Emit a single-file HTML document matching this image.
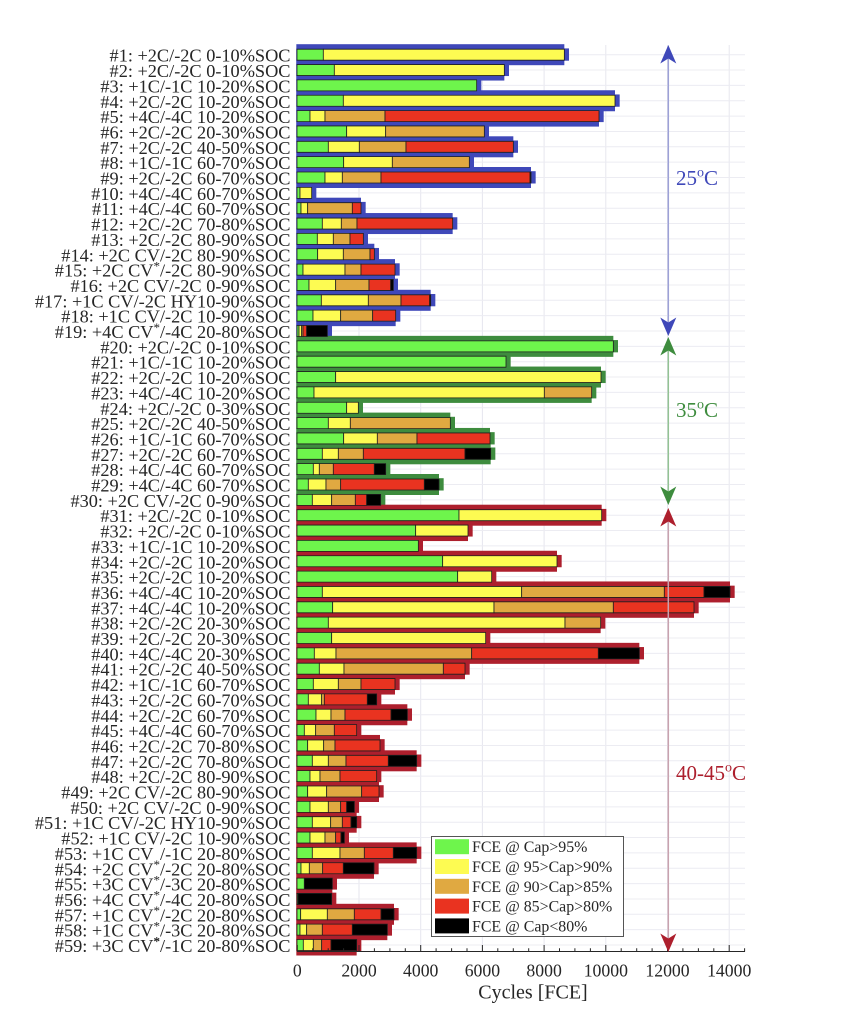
<!DOCTYPE html>
<html><head><meta charset="utf-8"><style>
body{margin:0;background:#fff}
svg{display:block}
text{font-family:"Liberation Serif","DejaVu Serif",serif;fill:#262626}
.o1{fill:#3f48b9}.o2{fill:#3e8c3e}.o3{fill:#ad1f2d}
.g,.y,.o,.r,.k{stroke:#1e1e1e;stroke-width:0.8px;vector-effect:non-scaling-stroke}
.g{fill:#6ef54c}.y{fill:#fdfb52}.o{fill:#e0a941}.r{fill:#e93320}.k{fill:#000}
</style></head><body>
<svg width="851" height="1024" viewBox="0 0 851 1024" xmlns="http://www.w3.org/2000/svg">
<rect width="851" height="1024" fill="#fff"/>
<!-- grid -->
<path d="M359 45V951M420.7 45V951M482.4 45V951M544.1 45V951M605.8 45V951M667.5 45V951M729.2 45V951" stroke="#e6e6ee" stroke-width="1" fill="none"/>
<path d="M297 54.7H745M297 70.05H745M297 85.4H745M297 100.75H745M297 116.1H745M297 131.45H745M297 146.8H745M297 162.15H745M297 177.5H745M297 192.85H745M297 208.2H745M297 223.55H745M297 238.9H745M297 254.25H745M297 269.6H745M297 284.95H745M297 300.3H745M297 315.65H745M297 331H745M297 346.35H745M297 361.7H745M297 377.05H745M297 392.4H745M297 407.75H745M297 423.1H745M297 438.45H745M297 453.8H745M297 469.15H745M297 484.5H745M297 499.85H745M297 515.2H745M297 530.55H745M297 545.9H745M297 561.25H745M297 576.6H745M297 591.95H745M297 607.3H745M297 622.65H745M297 638H745M297 653.35H745M297 668.7H745M297 684.05H745M297 699.4H745M297 714.75H745M297 730.1H745M297 745.45H745M297 760.8H745M297 776.15H745M297 791.5H745M297 806.85H745M297 822.2H745M297 837.55H745M297 852.9H745M297 868.25H745M297 883.6H745M297 898.95H745M297 914.3H745M297 929.65H745M297 945H745" stroke="#ececf2" stroke-width="1" fill="none"/>

<g transform="translate(295,0) scale(0.333333,1)">
<!-- outer bars -->
<g transform="translate(0,54.7)" class="o1"><rect x="4" y="-10.5" width="804" height="21"/><rect x="4" y="-6.3" width="818" height="12.3"/></g>
<g transform="translate(0,70.05)" class="o1"><rect x="4" y="-10.5" width="624" height="21"/><rect x="4" y="-6.3" width="638" height="12.3"/></g>
<g transform="translate(0,85.4)" class="o1"><rect x="4" y="-10.5" width="541" height="21"/><rect x="4" y="-6.3" width="555" height="12.3"/></g>
<g transform="translate(0,100.75)" class="o1"><rect x="4" y="-10.5" width="956" height="21"/><rect x="4" y="-6.3" width="970" height="12.3"/></g>
<g transform="translate(0,116.1)" class="o1"><rect x="4" y="-10.5" width="908" height="21"/><rect x="4" y="-6.3" width="922" height="12.3"/></g>
<g transform="translate(0,131.45)" class="o1"><rect x="4" y="-10.5" width="564" height="21"/><rect x="4" y="-6.3" width="578" height="12.3"/></g>
<g transform="translate(0,146.8)" class="o1"><rect x="4" y="-10.5" width="651" height="21"/><rect x="4" y="-6.3" width="665" height="12.3"/></g>
<g transform="translate(0,162.15)" class="o1"><rect x="4" y="-10.5" width="519" height="21"/><rect x="4" y="-6.3" width="533" height="12.3"/></g>
<g transform="translate(0,177.5)" class="o1"><rect x="4" y="-10.5" width="704" height="21"/><rect x="4" y="-6.3" width="718" height="12.3"/></g>
<g transform="translate(0,192.85)" class="o1"><rect x="4" y="-10.5" width="46" height="21"/><rect x="4" y="-6.3" width="60" height="12.3"/></g>
<g transform="translate(0,208.2)" class="o1"><rect x="4" y="-10.5" width="194" height="21"/><rect x="4" y="-6.3" width="208" height="12.3"/></g>
<g transform="translate(0,223.55)" class="o1"><rect x="4" y="-10.5" width="469" height="21"/><rect x="4" y="-6.3" width="483" height="12.3"/></g>
<g transform="translate(0,238.9)" class="o1"><rect x="4" y="-10.5" width="201" height="21"/><rect x="4" y="-6.3" width="215" height="12.3"/></g>
<g transform="translate(0,254.25)" class="o1"><rect x="4" y="-10.5" width="234" height="21"/><rect x="4" y="-6.3" width="248" height="12.3"/></g>
<g transform="translate(0,269.6)" class="o1"><rect x="4" y="-10.5" width="296" height="21"/><rect x="4" y="-6.3" width="310" height="12.3"/></g>
<g transform="translate(0,284.95)" class="o1"><rect x="4" y="-10.5" width="291" height="21"/><rect x="4" y="-6.3" width="305" height="12.3"/></g>
<g transform="translate(0,300.3)" class="o1"><rect x="4" y="-10.5" width="403" height="21"/><rect x="4" y="-6.3" width="417" height="12.3"/></g>
<g transform="translate(0,315.65)" class="o1"><rect x="4" y="-10.5" width="298" height="21"/><rect x="4" y="-6.3" width="312" height="12.3"/></g>
<g transform="translate(0,331)" class="o1"><rect x="4" y="-10.5" width="93" height="21"/><rect x="4" y="-6.3" width="107" height="12.3"/></g>
<g transform="translate(0,346.35)" class="o2"><rect x="4" y="-10.5" width="951" height="21"/><rect x="4" y="-6.3" width="965" height="12.3"/></g>
<g transform="translate(0,361.7)" class="o2"><rect x="4" y="-10.5" width="629" height="21"/><rect x="4" y="-6.3" width="643" height="12.3"/></g>
<g transform="translate(0,377.05)" class="o2"><rect x="4" y="-10.5" width="914" height="21"/><rect x="4" y="-6.3" width="928" height="12.3"/></g>
<g transform="translate(0,392.4)" class="o2"><rect x="4" y="-10.5" width="886" height="21"/><rect x="4" y="-6.3" width="900" height="12.3"/></g>
<g transform="translate(0,407.75)" class="o2"><rect x="4" y="-10.5" width="186" height="21"/><rect x="4" y="-6.3" width="200" height="12.3"/></g>
<g transform="translate(0,423.1)" class="o2"><rect x="4" y="-10.5" width="462" height="21"/><rect x="4" y="-6.3" width="476" height="12.3"/></g>
<g transform="translate(0,438.45)" class="o2"><rect x="4" y="-10.5" width="581" height="21"/><rect x="4" y="-6.3" width="595" height="12.3"/></g>
<g transform="translate(0,453.8)" class="o2"><rect x="4" y="-10.5" width="583" height="21"/><rect x="4" y="-6.3" width="597" height="12.3"/></g>
<g transform="translate(0,469.15)" class="o2"><rect x="4" y="-10.5" width="268" height="21"/><rect x="4" y="-6.3" width="282" height="12.3"/></g>
<g transform="translate(0,484.5)" class="o2"><rect x="4" y="-10.5" width="428" height="21"/><rect x="4" y="-6.3" width="442" height="12.3"/></g>
<g transform="translate(0,499.85)" class="o2"><rect x="4" y="-10.5" width="253" height="21"/><rect x="4" y="-6.3" width="267" height="12.3"/></g>
<g transform="translate(0,515.2)" class="o3"><rect x="4" y="-10.5" width="916" height="21"/><rect x="4" y="-6.3" width="930" height="12.3"/></g>
<g transform="translate(0,530.55)" class="o3"><rect x="4" y="-10.5" width="515" height="21"/><rect x="4" y="-6.3" width="529" height="12.3"/></g>
<g transform="translate(0,545.9)" class="o3"><rect x="4" y="-10.5" width="366" height="21"/><rect x="4" y="-6.3" width="380" height="12.3"/></g>
<g transform="translate(0,561.25)" class="o3"><rect x="4" y="-10.5" width="782" height="21"/><rect x="4" y="-6.3" width="796" height="12.3"/></g>
<g transform="translate(0,576.6)" class="o3"><rect x="4" y="-10.5" width="586" height="21"/><rect x="4" y="-6.3" width="600" height="12.3"/></g>
<g transform="translate(0,591.95)" class="o3"><rect x="4" y="-10.5" width="1301" height="21"/><rect x="4" y="-6.3" width="1315" height="12.3"/></g>
<g transform="translate(0,607.3)" class="o3"><rect x="4" y="-10.5" width="1193" height="21"/><rect x="4" y="-6.3" width="1207" height="12.3"/></g>
<g transform="translate(0,622.65)" class="o3"><rect x="4" y="-10.5" width="913" height="21"/><rect x="4" y="-6.3" width="927" height="12.3"/></g>
<g transform="translate(0,638)" class="o3"><rect x="4" y="-10.5" width="568" height="21"/><rect x="4" y="-6.3" width="582" height="12.3"/></g>
<g transform="translate(0,653.35)" class="o3"><rect x="4" y="-10.5" width="1029" height="21"/><rect x="4" y="-6.3" width="1043" height="12.3"/></g>
<g transform="translate(0,668.7)" class="o3"><rect x="4" y="-10.5" width="506" height="21"/><rect x="4" y="-6.3" width="520" height="12.3"/></g>
<g transform="translate(0,684.05)" class="o3"><rect x="4" y="-10.5" width="296" height="21"/><rect x="4" y="-6.3" width="310" height="12.3"/></g>
<g transform="translate(0,699.4)" class="o3"><rect x="4" y="-10.5" width="241" height="21"/><rect x="4" y="-6.3" width="255" height="12.3"/></g>
<g transform="translate(0,714.75)" class="o3"><rect x="4" y="-10.5" width="333" height="21"/><rect x="4" y="-6.3" width="347" height="12.3"/></g>
<g transform="translate(0,730.1)" class="o3"><rect x="4" y="-10.5" width="181" height="21"/><rect x="4" y="-6.3" width="195" height="12.3"/></g>
<g transform="translate(0,745.45)" class="o3"><rect x="4" y="-10.5" width="251" height="21"/><rect x="4" y="-6.3" width="265" height="12.3"/></g>
<g transform="translate(0,760.8)" class="o3"><rect x="4" y="-10.5" width="361" height="21"/><rect x="4" y="-6.3" width="375" height="12.3"/></g>
<g transform="translate(0,776.15)" class="o3"><rect x="4" y="-10.5" width="241" height="21"/><rect x="4" y="-6.3" width="255" height="12.3"/></g>
<g transform="translate(0,791.5)" class="o3"><rect x="4" y="-10.5" width="248" height="21"/><rect x="4" y="-6.3" width="262" height="12.3"/></g>
<g transform="translate(0,806.85)" class="o3"><rect x="4" y="-10.5" width="174" height="21"/><rect x="4" y="-6.3" width="188" height="12.3"/></g>
<g transform="translate(0,822.2)" class="o3"><rect x="4" y="-10.5" width="181" height="21"/><rect x="4" y="-6.3" width="195" height="12.3"/></g>
<g transform="translate(0,837.55)" class="o3"><rect x="4" y="-10.5" width="144" height="21"/><rect x="4" y="-6.3" width="158" height="12.3"/></g>
<g transform="translate(0,852.9)" class="o3"><rect x="4" y="-10.5" width="361" height="21"/><rect x="4" y="-6.3" width="375" height="12.3"/></g>
<g transform="translate(0,868.25)" class="o3"><rect x="4" y="-10.5" width="233" height="21"/><rect x="4" y="-6.3" width="247" height="12.3"/></g>
<g transform="translate(0,883.6)" class="o3"><rect x="4" y="-10.5" width="108" height="21"/><rect x="4" y="-6.3" width="122" height="12.3"/></g>
<g transform="translate(0,898.95)" class="o3"><rect x="4" y="-10.5" width="106" height="21"/><rect x="4" y="-6.3" width="120" height="12.3"/></g>
<g transform="translate(0,914.3)" class="o3"><rect x="4" y="-10.5" width="293" height="21"/><rect x="4" y="-6.3" width="307" height="12.3"/></g>
<g transform="translate(0,929.65)" class="o3"><rect x="4" y="-10.5" width="273" height="21"/><rect x="4" y="-6.3" width="287" height="12.3"/></g>
<g transform="translate(0,945)" class="o3"><rect x="4" y="-10.5" width="181" height="21"/><rect x="4" y="-6.3" width="195" height="12.3"/></g>

<!-- inner bars -->
<g transform="translate(0,54.7)"><rect class="g" x="6" y="-5.5" width="79" height="11"/><rect class="y" x="85" y="-5.5" width="723" height="11"/></g>
<g transform="translate(0,70.05)"><rect class="g" x="6" y="-5.5" width="112" height="11"/><rect class="y" x="118" y="-5.5" width="510" height="11"/></g>
<g transform="translate(0,85.4)"><rect class="g" x="6" y="-5.5" width="539" height="11"/></g>
<g transform="translate(0,100.75)"><rect class="g" x="6" y="-5.5" width="139" height="11"/><rect class="y" x="145" y="-5.5" width="815" height="11"/></g>
<g transform="translate(0,116.1)"><rect class="g" x="6" y="-5.5" width="39" height="11"/><rect class="y" x="45" y="-5.5" width="45" height="11"/><rect class="o" x="90" y="-5.5" width="180" height="11"/><rect class="r" x="270" y="-5.5" width="642" height="11"/></g>
<g transform="translate(0,131.45)"><rect class="g" x="6" y="-5.5" width="149" height="11"/><rect class="y" x="155" y="-5.5" width="117" height="11"/><rect class="o" x="272" y="-5.5" width="296" height="11"/></g>
<g transform="translate(0,146.8)"><rect class="g" x="6" y="-5.5" width="94" height="11"/><rect class="y" x="100" y="-5.5" width="93" height="11"/><rect class="o" x="193" y="-5.5" width="140" height="11"/><rect class="r" x="333" y="-5.5" width="322" height="11"/></g>
<g transform="translate(0,162.15)"><rect class="g" x="6" y="-5.5" width="140" height="11"/><rect class="y" x="146" y="-5.5" width="146" height="11"/><rect class="o" x="292" y="-5.5" width="231" height="11"/></g>
<g transform="translate(0,177.5)"><rect class="g" x="6" y="-5.5" width="84" height="11"/><rect class="y" x="90" y="-5.5" width="52" height="11"/><rect class="o" x="142" y="-5.5" width="116" height="11"/><rect class="r" x="258" y="-5.5" width="447" height="11"/><rect class="k" x="705" y="-5.5" width="3" height="11"/></g>
<g transform="translate(0,192.85)"><rect class="g" x="6" y="-5.5" width="9" height="11"/><rect class="y" x="15" y="-5.5" width="35" height="11"/></g>
<g transform="translate(0,208.2)"><rect class="g" x="6" y="-5.5" width="12" height="11"/><rect class="y" x="18" y="-5.5" width="20" height="11"/><rect class="o" x="38" y="-5.5" width="134" height="11"/><rect class="r" x="172" y="-5.5" width="26" height="11"/></g>
<g transform="translate(0,223.55)"><rect class="g" x="6" y="-5.5" width="76" height="11"/><rect class="y" x="82" y="-5.5" width="57" height="11"/><rect class="o" x="139" y="-5.5" width="47" height="11"/><rect class="r" x="186" y="-5.5" width="287" height="11"/></g>
<g transform="translate(0,238.9)"><rect class="g" x="6" y="-5.5" width="61" height="11"/><rect class="y" x="67" y="-5.5" width="48" height="11"/><rect class="o" x="115" y="-5.5" width="50" height="11"/><rect class="r" x="165" y="-5.5" width="40" height="11"/></g>
<g transform="translate(0,254.25)"><rect class="g" x="6" y="-5.5" width="62" height="11"/><rect class="y" x="68" y="-5.5" width="77" height="11"/><rect class="o" x="145" y="-5.5" width="80" height="11"/><rect class="r" x="225" y="-5.5" width="13" height="11"/></g>
<g transform="translate(0,269.6)"><rect class="g" x="6" y="-5.5" width="18" height="11"/><rect class="y" x="24" y="-5.5" width="126" height="11"/><rect class="o" x="150" y="-5.5" width="48" height="11"/><rect class="r" x="198" y="-5.5" width="102" height="11"/></g>
<g transform="translate(0,284.95)"><rect class="g" x="6" y="-5.5" width="36" height="11"/><rect class="y" x="42" y="-5.5" width="80" height="11"/><rect class="o" x="122" y="-5.5" width="100" height="11"/><rect class="r" x="222" y="-5.5" width="65" height="11"/><rect class="k" x="287" y="-5.5" width="8" height="11"/></g>
<g transform="translate(0,300.3)"><rect class="g" x="6" y="-5.5" width="73" height="11"/><rect class="y" x="79" y="-5.5" width="141" height="11"/><rect class="o" x="220" y="-5.5" width="98" height="11"/><rect class="r" x="318" y="-5.5" width="86" height="11"/><rect class="k" x="404" y="-5.5" width="3" height="11"/></g>
<g transform="translate(0,315.65)"><rect class="g" x="6" y="-5.5" width="48" height="11"/><rect class="y" x="54" y="-5.5" width="83" height="11"/><rect class="o" x="137" y="-5.5" width="96" height="11"/><rect class="r" x="233" y="-5.5" width="69" height="11"/></g>
<g transform="translate(0,331)"><rect class="g" x="6" y="-5.5" width="6" height="11"/><rect class="y" x="12" y="-5.5" width="8" height="11"/><rect class="o" x="20" y="-5.5" width="4" height="11"/><rect class="r" x="24" y="-5.5" width="11" height="11"/><rect class="k" x="35" y="-5.5" width="62" height="11"/></g>
<g transform="translate(0,346.35)"><rect class="g" x="6" y="-5.5" width="949" height="11"/></g>
<g transform="translate(0,361.7)"><rect class="g" x="6" y="-5.5" width="627" height="11"/></g>
<g transform="translate(0,377.05)"><rect class="g" x="6" y="-5.5" width="116" height="11"/><rect class="y" x="122" y="-5.5" width="796" height="11"/></g>
<g transform="translate(0,392.4)"><rect class="g" x="6" y="-5.5" width="51" height="11"/><rect class="y" x="57" y="-5.5" width="691" height="11"/><rect class="o" x="748" y="-5.5" width="142" height="11"/></g>
<g transform="translate(0,407.75)"><rect class="g" x="6" y="-5.5" width="149" height="11"/><rect class="y" x="155" y="-5.5" width="35" height="11"/></g>
<g transform="translate(0,423.1)"><rect class="g" x="6" y="-5.5" width="94" height="11"/><rect class="y" x="100" y="-5.5" width="66" height="11"/><rect class="o" x="166" y="-5.5" width="300" height="11"/></g>
<g transform="translate(0,438.45)"><rect class="g" x="6" y="-5.5" width="140" height="11"/><rect class="y" x="146" y="-5.5" width="101" height="11"/><rect class="o" x="247" y="-5.5" width="119" height="11"/><rect class="r" x="366" y="-5.5" width="219" height="11"/></g>
<g transform="translate(0,453.8)"><rect class="g" x="6" y="-5.5" width="76" height="11"/><rect class="y" x="82" y="-5.5" width="48" height="11"/><rect class="o" x="130" y="-5.5" width="75" height="11"/><rect class="r" x="205" y="-5.5" width="305" height="11"/><rect class="k" x="510" y="-5.5" width="77" height="11"/></g>
<g transform="translate(0,469.15)"><rect class="g" x="6" y="-5.5" width="49" height="11"/><rect class="y" x="55" y="-5.5" width="18" height="11"/><rect class="o" x="73" y="-5.5" width="42" height="11"/><rect class="r" x="115" y="-5.5" width="123" height="11"/><rect class="k" x="238" y="-5.5" width="34" height="11"/></g>
<g transform="translate(0,484.5)"><rect class="g" x="6" y="-5.5" width="34" height="11"/><rect class="y" x="40" y="-5.5" width="53" height="11"/><rect class="o" x="93" y="-5.5" width="44" height="11"/><rect class="r" x="137" y="-5.5" width="251" height="11"/><rect class="k" x="388" y="-5.5" width="44" height="11"/></g>
<g transform="translate(0,499.85)"><rect class="g" x="6" y="-5.5" width="46" height="11"/><rect class="y" x="52" y="-5.5" width="58" height="11"/><rect class="o" x="110" y="-5.5" width="71" height="11"/><rect class="r" x="181" y="-5.5" width="34" height="11"/><rect class="k" x="215" y="-5.5" width="42" height="11"/></g>
<g transform="translate(0,515.2)"><rect class="g" x="6" y="-5.5" width="486" height="11"/><rect class="y" x="492" y="-5.5" width="428" height="11"/></g>
<g transform="translate(0,530.55)"><rect class="g" x="6" y="-5.5" width="356" height="11"/><rect class="y" x="362" y="-5.5" width="157" height="11"/></g>
<g transform="translate(0,545.9)"><rect class="g" x="6" y="-5.5" width="364" height="11"/></g>
<g transform="translate(0,561.25)"><rect class="g" x="6" y="-5.5" width="437" height="11"/><rect class="y" x="443" y="-5.5" width="343" height="11"/></g>
<g transform="translate(0,576.6)"><rect class="g" x="6" y="-5.5" width="482" height="11"/><rect class="y" x="488" y="-5.5" width="102" height="11"/></g>
<g transform="translate(0,591.95)"><rect class="g" x="6" y="-5.5" width="76" height="11"/><rect class="y" x="82" y="-5.5" width="598" height="11"/><rect class="o" x="680" y="-5.5" width="428" height="11"/><rect class="r" x="1108" y="-5.5" width="119" height="11"/><rect class="k" x="1227" y="-5.5" width="78" height="11"/></g>
<g transform="translate(0,607.3)"><rect class="g" x="6" y="-5.5" width="107" height="11"/><rect class="y" x="113" y="-5.5" width="484" height="11"/><rect class="o" x="597" y="-5.5" width="358" height="11"/><rect class="r" x="955" y="-5.5" width="242" height="11"/></g>
<g transform="translate(0,622.65)"><rect class="g" x="6" y="-5.5" width="94" height="11"/><rect class="y" x="100" y="-5.5" width="710" height="11"/><rect class="o" x="810" y="-5.5" width="107" height="11"/></g>
<g transform="translate(0,638)"><rect class="g" x="6" y="-5.5" width="104" height="11"/><rect class="y" x="110" y="-5.5" width="462" height="11"/></g>
<g transform="translate(0,653.35)"><rect class="g" x="6" y="-5.5" width="52" height="11"/><rect class="y" x="58" y="-5.5" width="65" height="11"/><rect class="o" x="123" y="-5.5" width="407" height="11"/><rect class="r" x="530" y="-5.5" width="380" height="11"/><rect class="k" x="910" y="-5.5" width="123" height="11"/></g>
<g transform="translate(0,668.7)"><rect class="g" x="6" y="-5.5" width="67" height="11"/><rect class="y" x="73" y="-5.5" width="74" height="11"/><rect class="o" x="147" y="-5.5" width="298" height="11"/><rect class="r" x="445" y="-5.5" width="65" height="11"/></g>
<g transform="translate(0,684.05)"><rect class="g" x="6" y="-5.5" width="49" height="11"/><rect class="y" x="55" y="-5.5" width="75" height="11"/><rect class="o" x="130" y="-5.5" width="68" height="11"/><rect class="r" x="198" y="-5.5" width="102" height="11"/></g>
<g transform="translate(0,699.4)"><rect class="g" x="6" y="-5.5" width="34" height="11"/><rect class="y" x="40" y="-5.5" width="40" height="11"/><rect class="o" x="80" y="-5.5" width="8" height="11"/><rect class="r" x="88" y="-5.5" width="129" height="11"/><rect class="k" x="217" y="-5.5" width="28" height="11"/></g>
<g transform="translate(0,714.75)"><rect class="g" x="6" y="-5.5" width="57" height="11"/><rect class="y" x="63" y="-5.5" width="45" height="11"/><rect class="o" x="108" y="-5.5" width="42" height="11"/><rect class="r" x="150" y="-5.5" width="138" height="11"/><rect class="k" x="288" y="-5.5" width="49" height="11"/></g>
<g transform="translate(0,730.1)"><rect class="g" x="6" y="-5.5" width="22" height="11"/><rect class="y" x="28" y="-5.5" width="34" height="11"/><rect class="o" x="62" y="-5.5" width="56" height="11"/><rect class="r" x="118" y="-5.5" width="67" height="11"/></g>
<g transform="translate(0,745.45)"><rect class="g" x="6" y="-5.5" width="32" height="11"/><rect class="y" x="38" y="-5.5" width="48" height="11"/><rect class="o" x="86" y="-5.5" width="34" height="11"/><rect class="r" x="120" y="-5.5" width="135" height="11"/></g>
<g transform="translate(0,760.8)"><rect class="g" x="6" y="-5.5" width="46" height="11"/><rect class="y" x="52" y="-5.5" width="48" height="11"/><rect class="o" x="100" y="-5.5" width="53" height="11"/><rect class="r" x="153" y="-5.5" width="127" height="11"/><rect class="k" x="280" y="-5.5" width="85" height="11"/></g>
<g transform="translate(0,776.15)"><rect class="g" x="6" y="-5.5" width="39" height="11"/><rect class="y" x="45" y="-5.5" width="30" height="11"/><rect class="o" x="75" y="-5.5" width="60" height="11"/><rect class="r" x="135" y="-5.5" width="110" height="11"/></g>
<g transform="translate(0,791.5)"><rect class="g" x="6" y="-5.5" width="32" height="11"/><rect class="y" x="38" y="-5.5" width="57" height="11"/><rect class="o" x="95" y="-5.5" width="105" height="11"/><rect class="r" x="200" y="-5.5" width="52" height="11"/></g>
<g transform="translate(0,806.85)"><rect class="g" x="6" y="-5.5" width="39" height="11"/><rect class="y" x="45" y="-5.5" width="55" height="11"/><rect class="o" x="100" y="-5.5" width="37" height="11"/><rect class="r" x="137" y="-5.5" width="18" height="11"/><rect class="k" x="155" y="-5.5" width="23" height="11"/></g>
<g transform="translate(0,822.2)"><rect class="g" x="6" y="-5.5" width="46" height="11"/><rect class="y" x="52" y="-5.5" width="55" height="11"/><rect class="o" x="107" y="-5.5" width="35" height="11"/><rect class="r" x="142" y="-5.5" width="26" height="11"/><rect class="k" x="168" y="-5.5" width="17" height="11"/></g>
<g transform="translate(0,837.55)"><rect class="g" x="6" y="-5.5" width="39" height="11"/><rect class="y" x="45" y="-5.5" width="45" height="11"/><rect class="o" x="90" y="-5.5" width="32" height="11"/><rect class="r" x="122" y="-5.5" width="16" height="11"/><rect class="k" x="138" y="-5.5" width="10" height="11"/></g>
<g transform="translate(0,852.9)"><rect class="g" x="6" y="-5.5" width="46" height="11"/><rect class="y" x="52" y="-5.5" width="83" height="11"/><rect class="o" x="135" y="-5.5" width="73" height="11"/><rect class="r" x="208" y="-5.5" width="87" height="11"/><rect class="k" x="295" y="-5.5" width="70" height="11"/></g>
<g transform="translate(0,868.25)"><rect class="g" x="6" y="-5.5" width="12" height="11"/><rect class="y" x="18" y="-5.5" width="25" height="11"/><rect class="o" x="43" y="-5.5" width="40" height="11"/><rect class="r" x="83" y="-5.5" width="62" height="11"/><rect class="k" x="145" y="-5.5" width="92" height="11"/></g>
<g transform="translate(0,883.6)"><rect class="g" x="6" y="-5.5" width="22" height="11"/><rect class="k" x="28" y="-5.5" width="84" height="11"/></g>
<g transform="translate(0,898.95)"><rect class="g" x="6" y="-5.5" width="3" height="11"/><rect class="k" x="9" y="-5.5" width="101" height="11"/></g>
<g transform="translate(0,914.3)"><rect class="g" x="6" y="-5.5" width="11" height="11"/><rect class="y" x="17" y="-5.5" width="80" height="11"/><rect class="o" x="97" y="-5.5" width="81" height="11"/><rect class="r" x="178" y="-5.5" width="80" height="11"/><rect class="k" x="258" y="-5.5" width="39" height="11"/></g>
<g transform="translate(0,929.65)"><rect class="g" x="6" y="-5.5" width="9" height="11"/><rect class="y" x="15" y="-5.5" width="20" height="11"/><rect class="o" x="35" y="-5.5" width="47" height="11"/><rect class="r" x="82" y="-5.5" width="90" height="11"/><rect class="k" x="172" y="-5.5" width="105" height="11"/></g>
<g transform="translate(0,945)"><rect class="g" x="6" y="-5.5" width="19" height="11"/><rect class="y" x="25" y="-5.5" width="30" height="11"/><rect class="o" x="55" y="-5.5" width="25" height="11"/><rect class="r" x="80" y="-5.5" width="28" height="11"/><rect class="k" x="108" y="-5.5" width="77" height="11"/></g>
</g>

<!-- x axis -->
<path d="M297 951.5H745" stroke="#262626" stroke-width="1"/>
<path d="M297.3 951.5V945M312.7 951.5V948.2M328.2 951.5V948.2M343.6 951.5V948.2M359 951.5V945M374.4 951.5V948.2M389.9 951.5V948.2M405.3 951.5V948.2M420.7 951.5V945M436.1 951.5V948.2M451.6 951.5V948.2M467 951.5V948.2M482.4 951.5V945M497.8 951.5V948.2M513.3 951.5V948.2M528.7 951.5V948.2M544.1 951.5V945M559.5 951.5V948.2M574.9 951.5V948.2M590.4 951.5V948.2M605.8 951.5V945M621.2 951.5V948.2M636.7 951.5V948.2M652.1 951.5V948.2M667.5 951.5V945M682.9 951.5V948.2M698.4 951.5V948.2M713.8 951.5V948.2M729.2 951.5V945M744.6 951.5V948.2" stroke="#262626" stroke-width="1" fill="none"/>
<g font-size="17.7" text-anchor="middle">
<text x="297.3" y="976.5">0</text>
<text x="359" y="976.5">2000</text>
<text x="420.7" y="976.5">4000</text>
<text x="482.4" y="976.5">6000</text>
<text x="544.1" y="976.5">8000</text>
<text x="605.8" y="976.5">10000</text>
<text x="667.5" y="976.5">12000</text>
<text x="729.2" y="976.5">14000</text>
</g>
<text x="533" y="998.5" font-size="20" text-anchor="middle">Cycles [FCE]</text>

<!-- row labels -->
<g font-size="18.3" text-anchor="end">
<text x="290.5" y="61.7">#1: +2C/-2C 0-10%SOC</text>
<text x="290.5" y="77.05">#2: +2C/-2C 0-10%SOC</text>
<text x="290.5" y="92.4">#3: +1C/-1C 10-20%SOC</text>
<text x="290.5" y="107.75">#4: +2C/-2C 10-20%SOC</text>
<text x="290.5" y="123.1">#5: +4C/-4C 10-20%SOC</text>
<text x="290.5" y="138.45">#6: +2C/-2C 20-30%SOC</text>
<text x="290.5" y="153.8">#7: +2C/-2C 40-50%SOC</text>
<text x="290.5" y="169.15">#8: +1C/-1C 60-70%SOC</text>
<text x="290.5" y="184.5">#9: +2C/-2C 60-70%SOC</text>
<text x="290.5" y="199.85">#10: +4C/-4C 60-70%SOC</text>
<text x="290.5" y="215.2">#11: +4C/-4C 60-70%SOC</text>
<text x="290.5" y="230.55">#12: +2C/-2C 70-80%SOC</text>
<text x="290.5" y="245.9">#13: +2C/-2C 80-90%SOC</text>
<text x="290.5" y="261.25">#14: +2C CV/-2C 80-90%SOC</text>
<text x="290.5" y="276.6">#15: +2C CV<tspan font-size="13" dy="-6">*</tspan><tspan dy="6">/-2C 80-90%SOC</tspan></text>
<text x="290.5" y="291.95">#16: +2C CV/-2C 0-90%SOC</text>
<text x="290.5" y="307.3">#17: +1C CV/-2C HY10-90%SOC</text>
<text x="290.5" y="322.65">#18: +1C CV/-2C 10-90%SOC</text>
<text x="290.5" y="338">#19: +4C CV<tspan font-size="13" dy="-6">*</tspan><tspan dy="6">/-4C 20-80%SOC</tspan></text>
<text x="290.5" y="353.35">#20: +2C/-2C 0-10%SOC</text>
<text x="290.5" y="368.7">#21: +1C/-1C 10-20%SOC</text>
<text x="290.5" y="384.05">#22: +2C/-2C 10-20%SOC</text>
<text x="290.5" y="399.4">#23: +4C/-4C 10-20%SOC</text>
<text x="290.5" y="414.75">#24: +2C/-2C 0-30%SOC</text>
<text x="290.5" y="430.1">#25: +2C/-2C 40-50%SOC</text>
<text x="290.5" y="445.45">#26: +1C/-1C 60-70%SOC</text>
<text x="290.5" y="460.8">#27: +2C/-2C 60-70%SOC</text>
<text x="290.5" y="476.15">#28: +4C/-4C 60-70%SOC</text>
<text x="290.5" y="491.5">#29: +4C/-4C 60-70%SOC</text>
<text x="290.5" y="506.85">#30: +2C CV/-2C 0-90%SOC</text>
<text x="290.5" y="522.2">#31: +2C/-2C 0-10%SOC</text>
<text x="290.5" y="537.55">#32: +2C/-2C 0-10%SOC</text>
<text x="290.5" y="552.9">#33: +1C/-1C 10-20%SOC</text>
<text x="290.5" y="568.25">#34: +2C/-2C 10-20%SOC</text>
<text x="290.5" y="583.6">#35: +2C/-2C 10-20%SOC</text>
<text x="290.5" y="598.95">#36: +4C/-4C 10-20%SOC</text>
<text x="290.5" y="614.3">#37: +4C/-4C 10-20%SOC</text>
<text x="290.5" y="629.65">#38: +2C/-2C 20-30%SOC</text>
<text x="290.5" y="645">#39: +2C/-2C 20-30%SOC</text>
<text x="290.5" y="660.35">#40: +4C/-4C 20-30%SOC</text>
<text x="290.5" y="675.7">#41: +2C/-2C 40-50%SOC</text>
<text x="290.5" y="691.05">#42: +1C/-1C 60-70%SOC</text>
<text x="290.5" y="706.4">#43: +2C/-2C 60-70%SOC</text>
<text x="290.5" y="721.75">#44: +2C/-2C 60-70%SOC</text>
<text x="290.5" y="737.1">#45: +4C/-4C 60-70%SOC</text>
<text x="290.5" y="752.45">#46: +2C/-2C 70-80%SOC</text>
<text x="290.5" y="767.8">#47: +2C/-2C 70-80%SOC</text>
<text x="290.5" y="783.15">#48: +2C/-2C 80-90%SOC</text>
<text x="290.5" y="798.5">#49: +2C CV/-2C 80-90%SOC</text>
<text x="290.5" y="813.85">#50: +2C CV/-2C 0-90%SOC</text>
<text x="290.5" y="829.2">#51: +1C CV/-2C HY10-90%SOC</text>
<text x="290.5" y="844.55">#52: +1C CV/-2C 10-90%SOC</text>
<text x="290.5" y="859.9">#53: +1C CV<tspan font-size="13" dy="9">*</tspan><tspan dy="-9">/-1C 20-80%SOC</tspan></text>
<text x="290.5" y="875.25">#54: +2C CV<tspan font-size="13" dy="9">*</tspan><tspan dy="-9">/-2C 20-80%SOC</tspan></text>
<text x="290.5" y="890.6">#55: +3C CV<tspan font-size="13" dy="9">*</tspan><tspan dy="-9">/-3C 20-80%SOC</tspan></text>
<text x="290.5" y="905.95">#56: +4C CV<tspan font-size="13" dy="9">*</tspan><tspan dy="-9">/-4C 20-80%SOC</tspan></text>
<text x="290.5" y="921.3">#57: +1C CV<tspan font-size="13" dy="9">*</tspan><tspan dy="-9">/-2C 20-80%SOC</tspan></text>
<text x="290.5" y="936.65">#58: +1C CV<tspan font-size="13" dy="9">*</tspan><tspan dy="-9">/-3C 20-80%SOC</tspan></text>
<text x="290.5" y="952">#59: +3C CV<tspan font-size="13" dy="-6">*</tspan><tspan dy="6">/-1C 20-80%SOC</tspan></text>
</g>

<!-- temperature arrows -->
<path d="M668.3 52V330" stroke="#9da1d6" stroke-width="1.5"/>
<path d="M668.3 343V499" stroke="#93c393" stroke-width="1.5"/>
<path d="M668.3 514V946" stroke="#c9a2ae" stroke-width="1.5"/>
<polygon points="668.3,45 676.3,63.5 668.3,58.5 660.3,63.5" fill="#3f48b9"/>
<polygon points="668.3,336 676.3,317.5 668.3,322.5 660.3,317.5" fill="#3f48b9"/>
<polygon points="668.3,337 676.3,355.5 668.3,350.5 660.3,355.5" fill="#3e8c3e"/>
<polygon points="668.3,505 676.3,486.5 668.3,491.5 660.3,486.5" fill="#3e8c3e"/>
<polygon points="668.3,508 676.3,526.5 668.3,521.5 660.3,526.5" fill="#ad1f2d"/>
<polygon points="668.3,952 676.3,933.5 668.3,938.5 660.3,933.5" fill="#ad1f2d"/>
<text x="676" y="185" font-size="21" style="fill:#3f48b9">25<tspan font-size="14" dy="-8.5" style="fill:#3f48b9">o</tspan><tspan dy="8.5" style="fill:#3f48b9">C</tspan></text>
<text x="676" y="417" font-size="21" style="fill:#3e8c3e">35<tspan font-size="14" dy="-8.5" style="fill:#3e8c3e">o</tspan><tspan dy="8.5" style="fill:#3e8c3e">C</tspan></text>
<text x="676" y="780" font-size="21" style="fill:#ad1f2d">40-45<tspan font-size="14" dy="-8.5" style="fill:#ad1f2d">o</tspan><tspan dy="8.5" style="fill:#ad1f2d">C</tspan></text>

<!-- legend -->
<rect x="431.5" y="836.5" width="192" height="100" fill="#fff" stroke="#555" stroke-width="1"/>
<rect x="435" y="839.2" width="34" height="15" fill="#6ef54c"/>
<rect x="435" y="859" width="34" height="15" fill="#fdfb52"/>
<rect x="435" y="878.8" width="34" height="15" fill="#e0a941"/>
<rect x="435" y="898.6" width="34" height="15" fill="#e93320"/>
<rect x="435" y="918.4" width="34" height="15" fill="#000"/>
<g font-size="15.9">
<text x="472" y="852.2">FCE @ Cap&gt;95%</text>
<text x="472" y="872">FCE @ 95&gt;Cap&gt;90%</text>
<text x="472" y="891.8">FCE @ 90&gt;Cap&gt;85%</text>
<text x="472" y="911.6">FCE @ 85&gt;Cap&gt;80%</text>
<text x="472" y="931.4">FCE @ Cap&lt;80%</text>
</g>
</svg>
</body></html>
